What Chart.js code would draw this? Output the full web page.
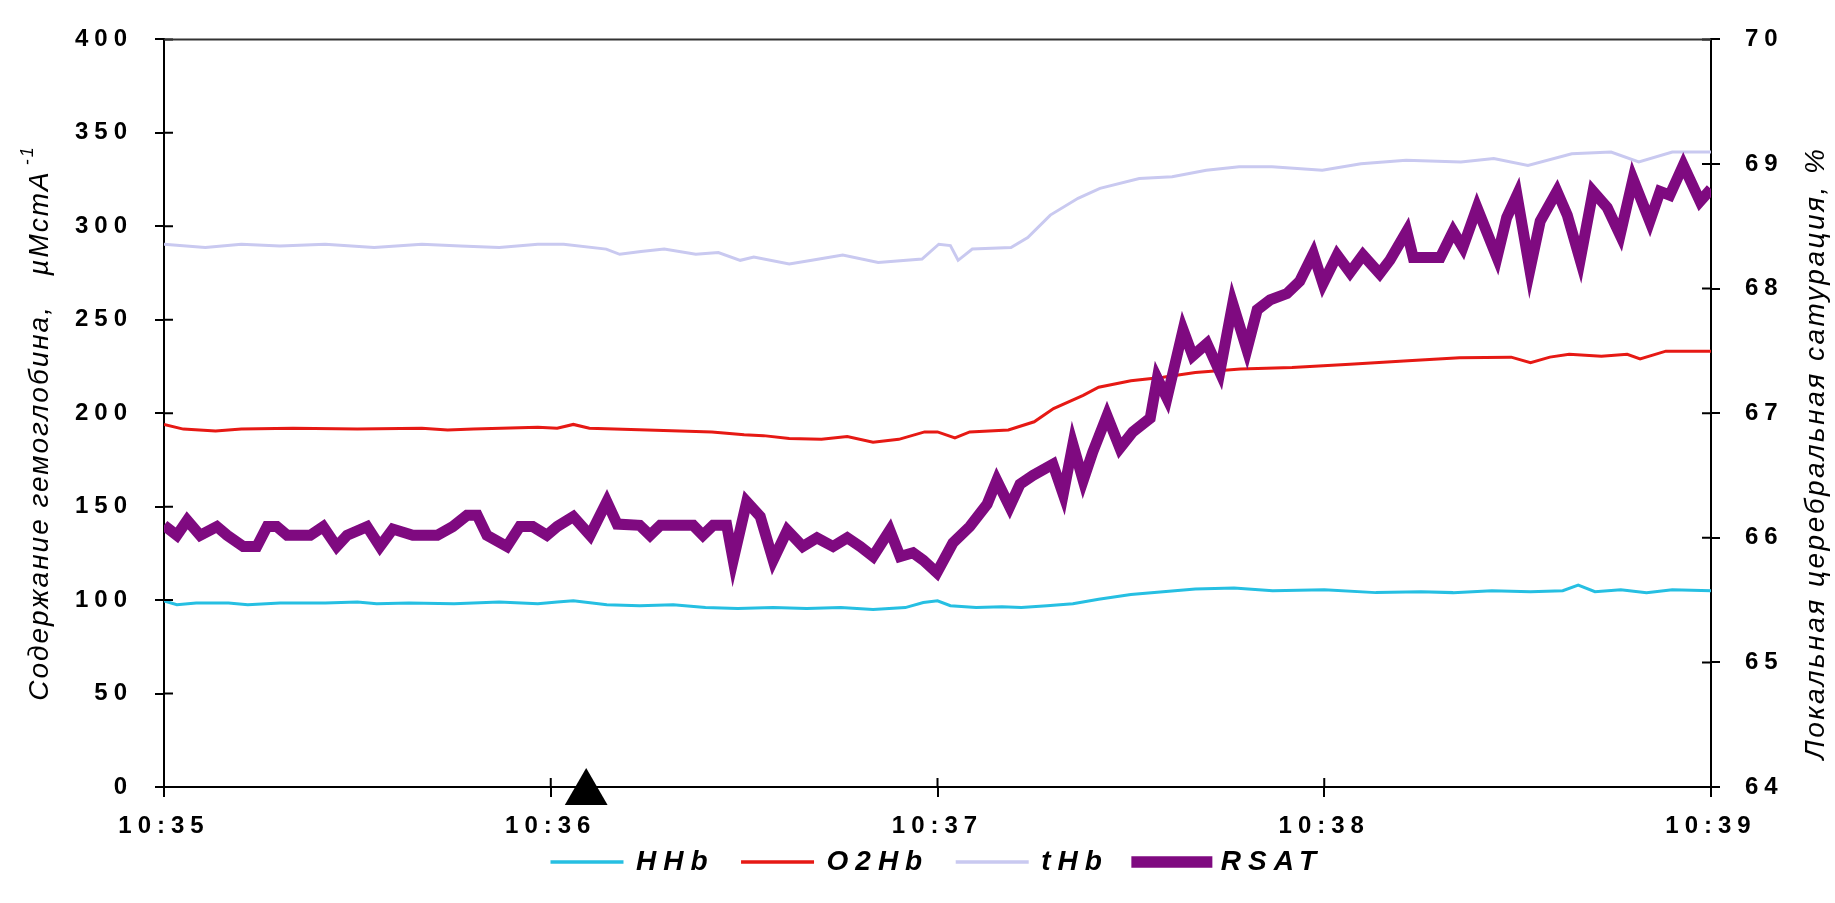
<!DOCTYPE html>
<html>
<head>
<meta charset="utf-8">
<script src="https://cdn.jsdelivr.net/npm/chart.js@4.4.0/dist/chart.umd.min.js"></script>
<style>
  html, body { margin: 0; padding: 0; background: #fff; }
  #wrap { width: 1835px; height: 903px; }
</style>
</head>
<body>
<div id="wrap"><canvas id="chart" width="1835" height="903"></canvas></div>
<script>
// x values are seconds after 10:35
const timeLabels = ['10:35', '10:36', '10:37', '10:38', '10:39'];
const leftTitle = 'Содержание гемоглобина,';
const leftUnit = 'µMcmA';
const leftSup = '-1';
const rightTitle = 'Локальная церебральная сатурация, %';

const hhbTime = [0, 2, 5, 10, 13, 18, 25, 30, 33, 38, 45, 52, 58, 61, 63.5, 68.7, 73.8, 79, 84, 89,
  94.5, 99.7, 105, 110, 115, 117.8, 120, 122, 126, 130, 133, 137, 141, 145, 150, 155, 160, 166, 172, 180,
  188, 195, 200, 206, 212, 217, 219.4, 222, 226, 230, 234, 240];
const hhb = [99.5, 97.5, 98.5, 98.5, 97.5, 98.5, 98.5, 99, 98, 98.5, 98, 99, 98, 99, 99.6, 97.5, 97, 97.5, 96, 95.5,
  96, 95.5, 96, 95, 96, 98.7, 99.6, 97, 96, 96.5, 96, 97, 98, 100.5, 103, 104.5, 106, 106.5, 105, 105.5,
  104, 104.5, 104, 105, 104.5, 105, 108, 104.5, 105.5, 104, 105.5, 105];

const o2hbTime = [0, 3, 8, 12, 20, 30, 40, 44, 48, 58, 61, 63.5, 66, 75, 80, 85, 90, 93, 97, 102,
  106, 110, 114, 118, 120, 122.7, 125, 131, 135, 138, 142.6, 145, 150, 155, 160, 167, 175, 184, 193, 201,
  209, 212, 215, 218, 223, 227, 229, 233, 240];
const o2hb = [194, 191.5, 190.5, 191.5, 192, 191.5, 192, 191, 191.5, 192.5, 192, 194, 192, 191, 190.5, 190, 188.5, 188, 186.5, 186,
  187.5, 184.5, 186, 190, 190, 186.8, 190, 191, 195.4, 202.5, 209.5, 213.9, 217.4, 219.2, 221.8, 223.6, 224.4, 226.2, 228, 229.7,
  230, 227, 230, 231.5, 230.5, 231.5, 229, 233.2, 233.2];

const thbTime = [0, 6.4, 12, 18, 25, 32.6, 40, 46, 52, 58, 62, 68.6, 70.7, 74, 77.6, 82.5, 86, 89.4, 91.5, 97,
  100.5, 105.3, 110.8, 117.6, 120.2, 122, 123.2, 125.4, 131.4, 134, 137.5, 141.8, 145.2, 151.3, 156.4, 161.7, 166.8, 171.9, 179.7, 185.7,
  192.7, 201.2, 206.3, 211.6, 218.4, 224.5, 228.8, 234, 240];
const thb = [290.4, 288.7, 290.4, 289.5, 290.4, 288.7, 290.4, 289.5, 288.7, 290.4, 290.4, 287.8, 285, 286.5, 287.8, 285, 286, 281.8, 283.5, 279.8,
  281.8, 284.6, 280.7, 282.5, 290.4, 289.7, 281.8, 287.8, 288.7, 294, 306, 315, 320.3, 325.6, 326.5, 330, 331.8, 331.8, 330, 333.5,
  335.3, 334.4, 336.3, 332.6, 338.8, 339.7, 334.4, 339.7, 339.7];

const rsatTime = [0, 2, 3.6, 5.6, 8.2, 9.8, 12.3, 14.4, 16, 17.5, 19.1, 22.7, 24.7, 26.8, 28.4, 31.5, 33.5, 35.5, 38.6, 42.4,
  44.8, 47, 48.6, 50.1, 53.2, 55.2, 57.2, 59.4, 61, 63.5, 66.1, 68.7, 70.3, 73.8, 75.4, 77, 82.1, 83.6, 85.2, 87.3,
  88.3, 90.4, 92.5, 94.5, 96.7, 99.1, 101.3, 103.8, 106, 108, 110, 112.6, 114.2, 116.2, 117.8, 119.9, 122.4, 125, 127.7, 129.2,
  131.2, 132.8, 134.8, 137.9, 139.5, 141, 142.6, 144.1, 146.3, 148.3, 150.3, 153, 154.1, 155.6, 158.1, 159.6, 161.8, 163.8, 165.8, 168,
  169.6, 171.6, 174.2, 176.2, 178.3, 179.8, 182, 184, 186, 188.6, 190.2, 192.8, 193.8, 198, 200, 201.5, 203.7, 206.8, 208.3, 209.9,
  211.9, 213.5, 216.1, 217.7, 219.7, 221.7, 223.9, 225.9, 227.9, 230.5, 232.1, 233.6, 235.7, 238.3, 240];
const rsat = [66.1, 66.02, 66.14, 66.02, 66.09, 66.02, 65.93, 65.93, 66.09, 66.09, 66.02, 66.02, 66.09, 65.93, 66.02, 66.09, 65.93, 66.07, 66.02, 66.02,
  66.09, 66.18, 66.18, 66.02, 65.93, 66.09, 66.09, 66.02, 66.09, 66.17, 66.02, 66.29, 66.11, 66.1, 66.02, 66.1, 66.1, 66.02, 66.1, 66.1,
  65.82, 66.29, 66.17, 65.82, 66.06, 65.93, 66.0, 65.93, 66.0, 65.93, 65.85, 66.06, 65.85, 65.88, 65.82, 65.72, 65.96, 66.09, 66.27, 66.46,
  66.25, 66.43, 66.5, 66.59, 66.35, 66.75, 66.46, 66.69, 66.98, 66.72, 66.85, 66.96, 67.28, 67.12, 67.67, 67.46, 67.56, 67.33, 67.88, 67.51,
  67.83, 67.91, 67.96, 68.06, 68.28, 68.04, 68.27, 68.13, 68.27, 68.12, 68.23, 68.46, 68.25, 68.25, 68.46, 68.33, 68.65, 68.25, 68.57, 68.75,
  68.15, 68.54, 68.78, 68.59, 68.23, 68.78, 68.65, 68.43, 68.88, 68.54, 68.78, 68.75, 68.99, 68.7, 68.8];

// black triangle at the time axis (event mark)
const markerTime = [65.5];
const markerValue = [-3];

const FONT = '"Liberation Sans", Arial, sans-serif';
const pts = (t, v) => t.map((x, i) => ({ x: x, y: v[i] }));

function line(label, t, v, color, width, axis) {
  return {
    label: label,
    data: pts(t, v),
    borderColor: color,
    backgroundColor: color,
    borderWidth: width,
    pointRadius: 0,
    tension: 0,
    yAxisID: axis
  };
}

const frame = {
  id: 'frame',
  beforeLayout(chart) {
    chart.ctx.letterSpacing = '6px';
    const lg = chart.legend;
    if (lg && !lg._spaced) {
      lg._spaced = true;
      const fit = lg.fit, draw = lg.draw;
      lg.fit = function () {
        const c = this.ctx, old = c.letterSpacing;
        c.letterSpacing = '7px'; fit.apply(this, arguments); c.letterSpacing = old;
      };
      lg.draw = function () {
        const c = this.ctx, old = c.letterSpacing;
        c.letterSpacing = '7px'; draw.apply(this, arguments); c.letterSpacing = old;
      };
    }
  },
  beforeDraw(chart) {
    chart.ctx.letterSpacing = '6px';
  },
  afterDraw(chart) {
    const { ctx, chartArea: a, scales } = chart;
    ctx.save();
    // inner halves of the tick marks and the top frame line
    ctx.strokeStyle = '#000';
    ctx.lineWidth = 2;
    ctx.beginPath();
    scales.x.ticks.forEach(t => {
      const p = scales.x.getPixelForValue(t.value);
      ctx.moveTo(p, a.bottom); ctx.lineTo(p, a.bottom - 9);
    });
    scales.y.ticks.forEach(t => {
      const p = scales.y.getPixelForValue(t.value);
      ctx.moveTo(a.left, p); ctx.lineTo(a.left + 9, p);
    });
    scales.y1.ticks.forEach(t => {
      const p = scales.y1.getPixelForValue(t.value);
      ctx.moveTo(a.right, p); ctx.lineTo(a.right - 9, p);
    });
    ctx.stroke();
    ctx.strokeStyle = '#333';
    ctx.beginPath();
    ctx.moveTo(a.left, a.top); ctx.lineTo(a.right, a.top);
    ctx.stroke();

    // axis titles, both read bottom to top
    ctx.fillStyle = '#000';
    ctx.textBaseline = 'middle';
    const big = 'italic 28px ' + FONT, small = 'italic 18px ' + FONT;
    ctx.letterSpacing = '2px';
    ctx.font = big;
    const head = leftTitle + '   ';
    const wa = ctx.measureText(head).width, wb = ctx.measureText(leftUnit).width;
    ctx.font = small;
    const wc = ctx.measureText(leftSup).width;
    const total = wa + wb + 5 + wc;
    ctx.save();
    ctx.translate(40, 423);
    ctx.rotate(-Math.PI / 2);
    ctx.textAlign = 'left';
    ctx.font = big;
    ctx.fillText(head, -total / 2, 0);
    ctx.fillText(leftUnit, -total / 2 + wa, 0);
    ctx.font = small;
    ctx.fillText(leftSup, -total / 2 + wa + wb + 5, -12);
    ctx.restore();

    ctx.letterSpacing = '2.5px';
    ctx.save();
    ctx.translate(1816, 453);
    ctx.rotate(-Math.PI / 2);
    ctx.textAlign = 'center';
    ctx.font = big;
    ctx.fillText(rightTitle, 0, 0);
    ctx.restore();
    ctx.restore();
  }
};

const tickFont = { family: FONT, size: 24, weight: 'bold' };

new Chart(document.getElementById('chart'), {
  type: 'line',
  data: {
    datasets: [
      line('HHb', hhbTime, hhb, '#26bfe2', 3, 'y'),
      line('O2Hb', o2hbTime, o2hb, '#e61914', 3, 'y'),
      line('tHb', thbTime, thb, '#c9c9f0', 3, 'y'),
      Object.assign(line('RSAT', rsatTime, rsat, '#7f0a80', 11, 'y1'), { order: -1 }),
      {
        label: 'marker',
        data: pts(markerTime, markerValue),
        yAxisID: 'y',
        showLine: false,
        pointStyle: 'triangle',
        pointRadius: 24.7,
        pointBackgroundColor: '#000',
        pointBorderColor: '#000',
        pointBorderWidth: 0,
        clip: false,
        order: -2
      }
    ]
  },
  options: {
    responsive: false,
    animation: false,
    layout: { padding: { top: 29, bottom: 17, left: 0, right: 0 } },
    plugins: {
      tooltip: { enabled: false },
      legend: {
        position: 'bottom',
        fullSize: false,
        labels: {
          color: '#000',
          font: { family: FONT, size: 28, style: 'italic', weight: 'bold' },
          boxWidth: 70,
          boxHeight: 0.5,
          padding: 28,
          filter: (item) => item.datasetIndex < 4,
          sort: (a, b) => a.datasetIndex - b.datasetIndex
        }
      }
    },
    scales: {
      x: {
        type: 'linear',
        min: 0,
        max: 240,
        ticks: {
          stepSize: 60,
          callback: (v) => timeLabels[Math.round(v / 60)],
          color: '#000',
          font: tickFont,
          padding: 15,
          maxRotation: 0,
          autoSkip: false
        },
        grid: { drawOnChartArea: false, drawTicks: true, tickLength: 10, color: '#000', lineWidth: 2 },
        border: { display: true, color: '#000', width: 2 },
        afterFit: (s) => {
          s.height = 33;
          s._computeLabelArea = () => undefined; // let the time labels reach past the short axis box
        }
      },
      y: {
        position: 'left',
        min: 0,
        max: 400,
        ticks: { stepSize: 50, color: '#000', font: tickFont, padding: 22 },
        grid: { drawOnChartArea: false, drawTicks: true, tickLength: 9, color: '#000', lineWidth: 2 },
        border: { display: true, color: '#000', width: 2 },
        afterFit: (s) => { s.width = 164; }
      },
      y1: {
        position: 'right',
        min: 64,
        max: 70,
        ticks: { stepSize: 1, color: '#000', font: tickFont, padding: 25 },
        grid: { drawOnChartArea: false, drawTicks: true, tickLength: 9, color: '#000', lineWidth: 2 },
        border: { display: true, color: '#000', width: 2 },
        afterFit: (s) => { s.width = 124; }
      }
    }
  },
  plugins: [frame]
});
</script>
</body>
</html>
